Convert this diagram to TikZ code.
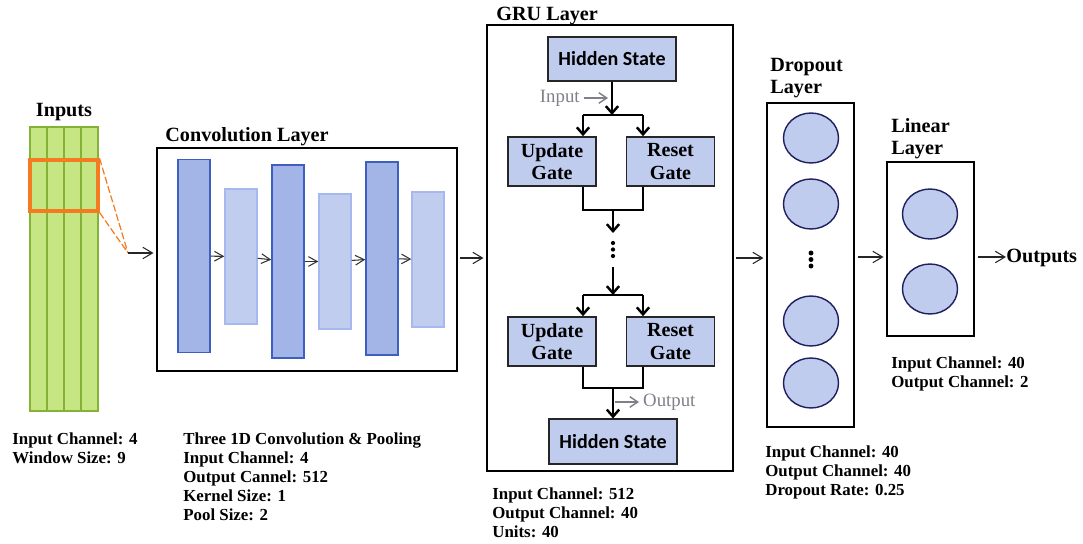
\documentclass[tikz,border=0pt]{standalone}
\usepackage{fontspec}
\setmainfont{Liberation Serif}
\newfontfamily\boxfont{Carlito}
\usepackage{xcolor}
\usepackage{tikz}
\usetikzlibrary{arrows.meta,shapes.geometric}

\definecolor{inputgreen}{HTML}{C6E684}
\definecolor{inputedge}{HTML}{84B236}
\definecolor{winorange}{HTML}{F47B20}
\definecolor{convdark}{HTML}{A3B5E6}
\definecolor{convdarkedge}{HTML}{3E5FC0}
\definecolor{convlight}{HTML}{C1CDEF}
\definecolor{convlightedge}{HTML}{A6B8EE}
\definecolor{unitblue}{HTML}{C0CCEE}
\definecolor{unitedge}{HTML}{1F1F5F}
\definecolor{hintgray}{HTML}{80808A}

\newcommand\titlefont{\fontsize{11.5}{12.6}\selectfont\bfseries}
\newcommand\infofont{\fontsize{9.6}{10.8}\selectfont\bfseries}
\newcommand\gatefont{\fontsize{11.4}{12.6}\selectfont\bfseries}
\newcommand\statefont{\boxfont\fontsize{11.4}{13}\selectfont\bfseries}

\begin{document}
\begin{tikzpicture}[x=0.02cm,y=-0.02cm,
  layerbox/.style={draw,line width=0.9pt,inner sep=0,outer sep=0},
  column/.style={draw=inputedge,fill=inputgreen,line width=0.9pt,minimum width=0.34cm,minimum height=5.68cm,inner sep=0},
  convbar/.style={draw=convdarkedge,fill=convdark,line width=0.9pt,minimum width=0.64cm,minimum height=3.86cm,inner sep=0},
  poolbar/.style={draw=convlightedge,fill=convlight,line width=0.8pt,minimum width=0.64cm,minimum height=2.7cm,inner sep=0},
  gatebox/.style={draw=black!85,fill=unitblue,line width=0.9pt,minimum width=1.76cm,minimum height=0.98cm,inner sep=0,align=center,font=\gatefont},
  statebox/.style={gatebox,minimum width=2.56cm,minimum height=0.89cm,font=\statefont},
  neuron/.style={ellipse,draw=unitedge,fill=unitblue,line width=0.8pt,minimum width=1.1cm,minimum height=1cm,inner sep=0},
  flow/.style={-{Straight Barb[length=5.5pt,width=6.5pt]},line width=0.6pt,black!85,shorten <=2pt,shorten >=2pt},
  convflow/.style={-{Straight Barb[length=5pt,width=5.5pt]},line width=0.6pt,black!80},
  gruarrow/.style={-{Straight Barb[length=4pt,width=7pt]},line width=1.4pt},
  gruline/.style={line width=1.4pt},
  hint/.style={-{Straight Barb[length=4.5pt,width=6pt]},line width=0.8pt,hintgray},
  title/.style={font=\titlefont,inner sep=0},
  info/.style={font=\infofont,align=left,inner sep=0,anchor=north west}
]
\useasboundingbox (0,0) rectangle (1083,544);

% Inputs
\foreach \i in {1,...,4}
  \node[column] (col\i) at ({21.5+17*\i},269) {};
\node[title,anchor=base] (intitle) at (64,117) {Inputs};
\node[draw=winorange,line width=1.8pt,minimum width=1.36cm,minimum height=1.02cm,inner sep=0] (win) at (64,185.5) {};
\coordinate (tip) at (128,253);
\draw[winorange,line width=0.7pt,dash pattern=on 4pt off 1.5pt] (win.north east) -- (tip) (win.south east) -- (tip);
\node[info] (ininfo) at (12,432.5) {Input Channel: 4\\Window Size: 9};

% Convolution layer
\node[layerbox,minimum width=6cm,minimum height=4.46cm] (conv) at (307,259.5) {};
\node[title,anchor=base west] (convtitle) at (165,142) {Convolution Layer};
\node[convbar] (b1) at (194,256) {};
\node[poolbar] (p1) at (241,256.5) {};
\node[convbar] (b2) at (288,261.5) {};
\node[poolbar] (p2) at (335,261.5) {};
\node[convbar] (b3) at (382,258.5) {};
\node[poolbar] (p3) at (428,259.5) {};
\draw[convflow] (b1) -- (p1);
\draw[convflow] (p1) -- (b2);
\draw[convflow] (b2) -- (p2);
\draw[convflow] (p2) -- (b3);
\draw[convflow] (b3) -- (p3);
\draw[flow,shorten <=0pt] (tip) -- (tip -| conv.west);
\node[info] (convinfo) at (183,432.5) {Three 1D Convolution \& Pooling\\Input Channel: 4\\Output Cannel: 512\\Kernel Size: 1\\Pool Size: 2};

% GRU layer
\node[layerbox,minimum width=4.92cm,minimum height=8.92cm] (gru) at (610,248) {};
\node[title,anchor=base west] (grutitle) at (496,21) {GRU Layer};
\node[statebox] (hs1) at (612,59) {Hidden State};
\node[gatebox] (ug1) at (552,161.5) {Update\\Gate};
\node[gatebox] (rg1) at (670.5,161.5) {Reset\\Gate};
\node[gatebox] (ug2) at (552,341.5) {Update\\Gate};
\node[gatebox] (rg2) at (670.5,341.5) {Reset\\Gate};
\node[statebox] (hs2) at (613,441.5) {Hidden State};
% first cell
\coordinate (s1) at (612,115);
\coordinate (sl1) at (583,115);
\coordinate (sr1) at (643,115);
\draw[gruarrow] (hs1) -- (s1);
\draw[gruline] (sl1) -- (sr1);
\draw[gruarrow] (sl1) -- (sl1 |- ug1.north);
\draw[gruarrow] (sr1) -- (sr1 |- rg1.north);
\coordinate (ml1) at (583,210);
\coordinate (mr1) at (643,210);
\coordinate (m1) at (613,210);
\coordinate (gap1) at (613,233);
\draw[gruline] (ml1 |- ug1.south) -- (ml1) -- (mr1) -- (mr1 |- rg1.south);
\draw[gruarrow] (m1) -- (gap1);
\node[anchor=east,inner sep=0,text=hintgray,font=\fontsize{10.7}{12}\selectfont] (inlbl) at (580,98) {Input};
\draw[hint] (inlbl.east) ++(2pt,0) -- (608,98);
\foreach \d in {0,1,2}
  \fill (613,{243+6.5*\d}) circle (1.2pt);
% second cell
\coordinate (gap2) at (613,267);
\coordinate (s2) at (613,295);
\coordinate (sl2) at (583,295);
\coordinate (sr2) at (643,295);
\draw[gruarrow] (gap2) -- (s2);
\draw[gruline] (sl2) -- (sr2);
\draw[gruarrow] (sl2) -- (sl2 |- ug2.north);
\draw[gruarrow] (sr2) -- (sr2 |- rg2.north);
\coordinate (ml2) at (583,388);
\coordinate (mr2) at (643,388);
\coordinate (m2) at (613,388);
\draw[gruline] (ml2 |- ug2.south) -- (ml2) -- (mr2) -- (mr2 |- rg2.south);
\draw[gruarrow] (m2) -- (hs2);
\coordinate (op) at (615,402);
\draw[hint] (op) -- ++(24,0) node[right,inner sep=2pt,text=hintgray,font=\fontsize{10.7}{12}\selectfont] (outlbl) {Output};
\node[info] (gruinfo) at (492,487.5) {Input Channel: 512\\Output Channel: 40\\Units: 40};
\coordinate (row1) at (0,258);
\draw[flow] (conv.east |- row1) -- (gru.west |- row1);

% Dropout layer
\node[layerbox,minimum width=1.74cm,minimum height=6.48cm] (drop) at (810.5,265) {};
\node[title,align=left,anchor=north west] (droptitle) at (770,57.5) {Dropout\\Layer};
\foreach \y/\n in {138/1,204/2,321/3,383/4}
  \node[neuron] (d\n) at (811,\y) {};
\foreach \d in {0,1,2}
  \fill (811,{253+6.5*\d}) circle (1.4pt);
\node[info] (dropinfo) at (765,445) {Input Channel: 40\\Output Channel: 40\\Dropout Rate: 0.25};
\draw[flow] (gru.east |- row1) -- (drop.west |- row1);

% Linear layer
\node[layerbox,minimum width=1.74cm,minimum height=3.48cm] (lin) at (930.5,249) {};
\node[title,align=left,anchor=north west] (lintitle) at (891,118) {Linear\\Layer};
\node[neuron] (l1) at (930,214) {};
\node[neuron] (l2) at (930,289) {};
\node[info] (lininfo) at (891,356) {Input Channel: 40\\Output Channel: 2};
\coordinate (row2) at (0,257);
\draw[flow] (drop.east |- row2) -- (lin.west |- row2);

% Outputs
\node[title,anchor=base west] (out) at (1006,262) {Outputs};
\draw[flow,shorten >=0pt] (lin.east |- row2) -- (out.west |- row2);
\end{tikzpicture}
\end{document}
